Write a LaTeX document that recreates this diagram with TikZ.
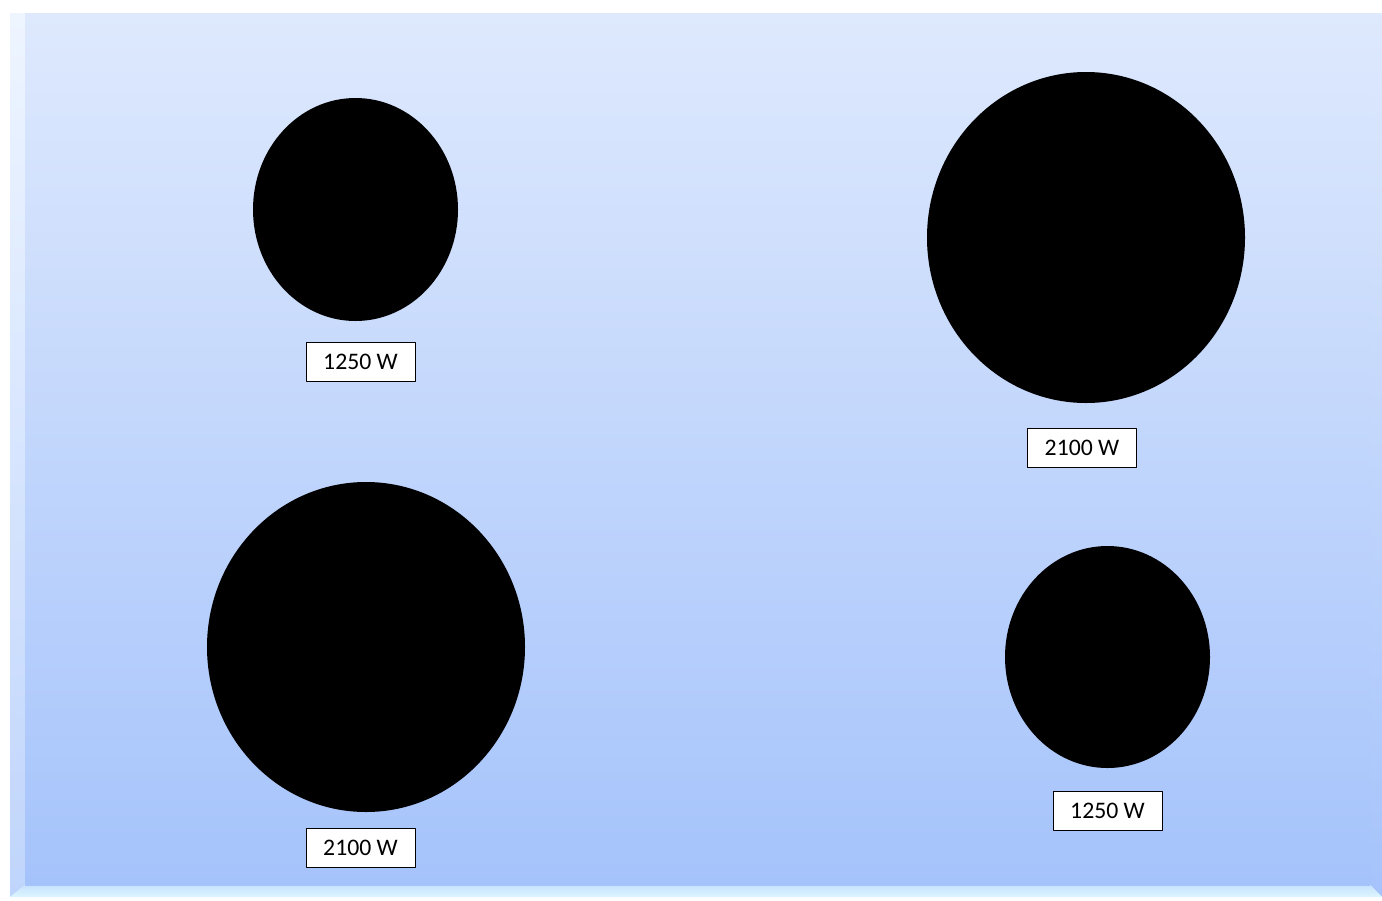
\documentclass[tikz,border=0pt]{standalone}
\usepackage{fontspec}
\setmainfont{Carlito}
\definecolor{paneltop}{HTML}{DEE9FD}
\definecolor{panelbot}{HTML}{A5C3FB}
\definecolor{bevellt}{HTML}{EEF5FF}
\definecolor{bevelbot}{HTML}{DDF6FF}
\begin{document}
\begin{tikzpicture}[x=0.02cm,y=-0.02cm,line join=round,
	power/.style={draw=black,line width=0.45pt,fill=white,inner sep=0pt,minimum width=2.18cm,minimum height=0.78cm,font=\fontsize{13.5}{15}\selectfont}]
	\useasboundingbox (0,0) rectangle (1382,900);
	\fill[white] (0,0) rectangle (1382,900);
	% bevel of the hob
	\shade[top color=bevellt,bottom color=panelbot!70!white] (10,13)--(25,13)--(25,885)--(10,897)--cycle;
	\shade[top color=paneltop,bottom color=panelbot] (1370,13)--(1382,13)--(1382,897)--(1370,885)--cycle;
	\shade[top color=bevelbot!60!panelbot,bottom color=bevelbot] (10,897)--(25,885)--(1370,885)--(1382,897)--cycle;
	\shade[top color=paneltop,bottom color=panelbot] (25,13) rectangle (1370,885);
	% burners
	\fill (355.5,209.5) ellipse [x radius=102.5,y radius=111.5];
	\fill (1086,237.5) ellipse [x radius=159,y radius=165.5];
	\fill (366,647) ellipse [x radius=159,y radius=165];
	\fill (1107.5,657) ellipse [x radius=102.5,y radius=111];
	% labels
	\node[power] (tl) at (360.5,361.5) {1250 W};
	\node[power] (tr) at (1082,447.5) {2100 W};
	\node[power] (bl) at (360.5,847.5) {2100 W};
	\node[power] (br) at (1107.5,811) {1250 W};
\end{tikzpicture}
\end{document}
